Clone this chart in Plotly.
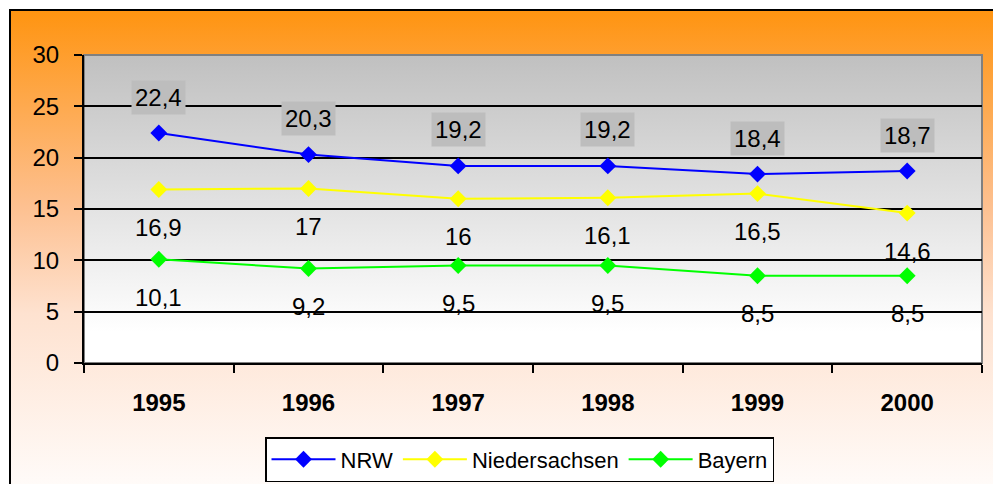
import base64
import plotly.graph_objects as go

# ---- data ----
years = ["1995", "1996", "1997", "1998", "1999", "2000"]
nrw = [22.4, 20.3, 19.2, 19.2, 18.4, 18.7]
niedersachsen = [16.9, 17.0, 16.0, 16.1, 16.5, 14.6]
bayern = [10.1, 9.2, 9.5, 9.5, 8.5, 8.5]
y_ticks = [0, 5, 10, 15, 20, 25, 30]

W, H = 993, 484
L, R, T, B = 84, 11, 55, 121
PW, PH = W - L - R, H - T - B


def px_x(px):
    return (px - L) / PW


def px_y(py):
    return (H - B - py) / PH


def svg_uri(stops):
    st = "".join(f'<stop offset="{o}" stop-color="{c}"/>' for o, c in stops)
    svg = ('<svg xmlns="http://www.w3.org/2000/svg" width="100" height="100" preserveAspectRatio="none">'
           '<defs><linearGradient id="g" x1="0" y1="0" x2="0" y2="1">' + st +
           '</linearGradient></defs><rect width="100" height="100" fill="url(#g)"/></svg>')
    return "data:image/svg+xml;base64," + base64.b64encode(svg.encode()).decode()


def fmt(v):
    return f"{v:g}".replace(".", ",")


FONT = "Arial, Liberation Sans, sans-serif"

fig = go.Figure()
series = [("NRW", nrw, "#0000FF"), ("Niedersachsen", niedersachsen, "#FFFF00"), ("Bayern", bayern, "#00FF00")]
for name, vals, col in series:
    fig.add_trace(go.Scatter(x=years, y=vals, name=name, mode="lines+markers",
                             line=dict(color=col, width=2),
                             marker=dict(symbol="diamond", size=13, color=col)))

annotations = []
for name, vals, col in series:
    for i, v in enumerate(vals):
        if name == "NRW":
            annotations.append(dict(x=i, y=v, xref="x", yref="y", text=fmt(v), showarrow=False,
                                    yshift=36, bgcolor="#BDBDBD", borderpad=3,
                                    font=dict(family=FONT, size=24, color="black")))
        else:
            annotations.append(dict(x=i, y=v, xref="x", yref="y", text=fmt(v), showarrow=False,
                                    yshift=-38, font=dict(family=FONT, size=24, color="black")))

x0f, x1f = px_x(10), px_x(1005)
y0f, y1f = px_y(10), px_y(500)
images = [
    dict(source=svg_uri([(0, "#FF9410"), (0.4, "#FDC090"), (0.62, "#FEE2D0"), (1, "#FFFDFC")]),
         xref="paper", yref="paper", x=x0f, y=y0f, sizex=x1f - x0f, sizey=y0f - y1f,
         sizing="stretch", layer="below", xanchor="left", yanchor="top"),
    dict(source=svg_uri([(0, "#C0C0C0"), (0.9, "#FFFFFF"), (1, "#FFFFFF")]),
         xref="paper", yref="paper", x=0, y=1, sizex=1, sizey=1,
         sizing="stretch", layer="below", xanchor="left", yanchor="top"),
]

shapes = [
    dict(type="rect", xref="paper", yref="paper", x0=x0f, x1=x1f, y0=y1f, y1=y0f,
         line=dict(color="black", width=2), fillcolor="rgba(0,0,0,0)", layer="above"),
    dict(type="rect", xref="paper", yref="paper", x0=0, x1=1, y0=0, y1=1,
         line=dict(color="#808080", width=2), fillcolor="rgba(0,0,0,0)", layer="below"),
]

fig.update_layout(
    width=W, height=H,
    margin=dict(l=L, r=R, t=T, b=B, pad=0, autoexpand=False),
    paper_bgcolor="white", plot_bgcolor="rgba(0,0,0,0)",
    font=dict(family=FONT, size=24, color="black"),
    images=images, shapes=shapes, annotations=annotations,
    showlegend=True,
    legend=dict(orientation="h", x=px_x(265), y=px_y(482), xanchor="left", yanchor="bottom",
                bgcolor="white", bordercolor="black", borderwidth=1.5,
                font=dict(family=FONT, size=22, color="black"), itemwidth=64),
    xaxis=dict(type="category", tickson="boundaries", ticks="outside", ticklen=8, tickwidth=2,
               tickcolor="black", showline=True, linecolor="black", linewidth=2,
               showgrid=False, tickfont=dict(family=FONT, size=24, color="black"),
               ticklabelstandoff=17, range=[-0.5, 5.5], fixedrange=True),
    yaxis=dict(range=[0, 30], tickvals=y_ticks, ticks="outside", ticklen=8, tickwidth=2,
               tickcolor="black", showline=True, linecolor="black", linewidth=2,
               showgrid=True, gridcolor="black", gridwidth=1.5, zeroline=False,
               tickfont=dict(family=FONT, size=24, color="black"), ticklabelstandoff=10,
               fixedrange=True),
)
fig.update_xaxes(tickprefix="<b>", ticksuffix="</b>")

fig.write_html("out.html", config={"displayModeBar": False},
               post_script="document.body.style.margin='0';")
